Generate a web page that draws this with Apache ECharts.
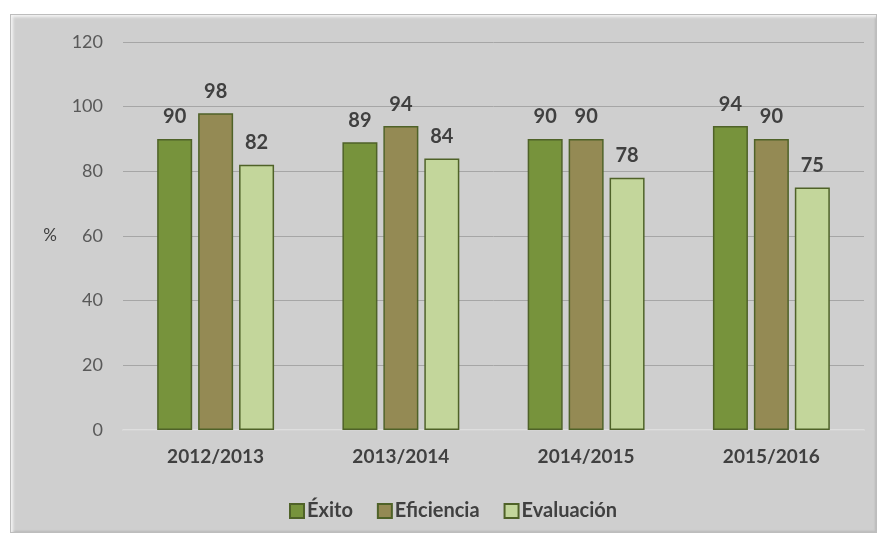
<!DOCTYPE html>
<html>
<head>
<meta charset="utf-8">
<script src="https://cdn.jsdelivr.net/npm/echarts@6/dist/echarts.min.js"></script>
<style>
  html, body { margin: 0; padding: 0; background: #ffffff; }
  #main {
    position: absolute; left: 10px; top: 14px;
    width: 867px; height: 519px;
    background: #cfcfcf;
    box-shadow: inset 2px 2px 3px #f4f4f4, inset -1px -1px 2px #b8b8b8;
    border: 1px solid #bdbdbd; box-sizing: border-box;
  }
</style>
</head>
<body>
<div id="main"></div>
<script>
  // datos del gráfico
  const cursos = ['2012/2013', '2013/2014', '2014/2015', '2015/2016'];
  const exito = [90, 89, 90, 94];
  const eficiencia = [98, 94, 90, 90];
  const evaluacion = [82, 84, 78, 75];

  const chartDom = document.getElementById('main');
  const myChart = echarts.init(chartDom);

  const etiqueta = {
    show: true,
    position: 'top',
    distance: 12,
    color: '#404040',
    fontFamily: 'Lato',
    fontWeight: 'bold',
    fontSize: 20
  };
  const borde = { borderColor: '#4f6228', borderWidth: 1.5 };

  const option = {
    backgroundColor: 'transparent',
    textStyle: { fontFamily: 'Lato' },
    grid: { left: 112, right: 12, top: 27, bottom: 102 },
    legend: {
      left: 273,
      bottom: 6,
      itemWidth: 14,
      itemHeight: 14,
      itemGap: 24,
      icon: 'rect',
      textStyle: { color: '#404040', fontSize: 20, fontWeight: 'bold', padding: [0, 0, 0, -2] }
    },
    xAxis: {
      type: 'category',
      data: cursos,
      axisLine: { lineStyle: { color: '#e4e4e4', width: 1.5 } },
      axisTick: { show: false },
      axisLabel: { color: '#404040', fontSize: 19, fontWeight: 'bold', margin: 17 }
    },
    yAxis: {
      type: 'value',
      min: 0,
      max: 120,
      interval: 20,
      name: '%',
      nameLocation: 'middle',
      nameRotate: 0,
      nameGap: 66,
      nameTextStyle: { color: '#404040', fontSize: 17 },
      axisLine: { show: false },
      axisTick: { show: false },
      axisLabel: { color: '#595959', fontSize: 18, margin: 20 },
      splitLine: { lineStyle: { color: '#a6a6a6', width: 1 } }
    },
    series: [
      {
        name: 'Éxito', type: 'bar', data: exito,
        barWidth: 35, barGap: '17%',
        itemStyle: Object.assign({ color: '#77933c' }, borde),
        label: etiqueta
      },
      {
        name: 'Eficiencia', type: 'bar', data: eficiencia,
        barWidth: 35, barGap: '17%',
        itemStyle: Object.assign({ color: '#948a54' }, borde),
        label: etiqueta
      },
      {
        name: 'Evaluación', type: 'bar', data: evaluacion,
        barWidth: 35, barGap: '17%',
        itemStyle: Object.assign({ color: '#c3d69b' }, borde),
        label: etiqueta
      }
    ]
  };

  option && myChart.setOption(option);
</script>
</body>
</html>
